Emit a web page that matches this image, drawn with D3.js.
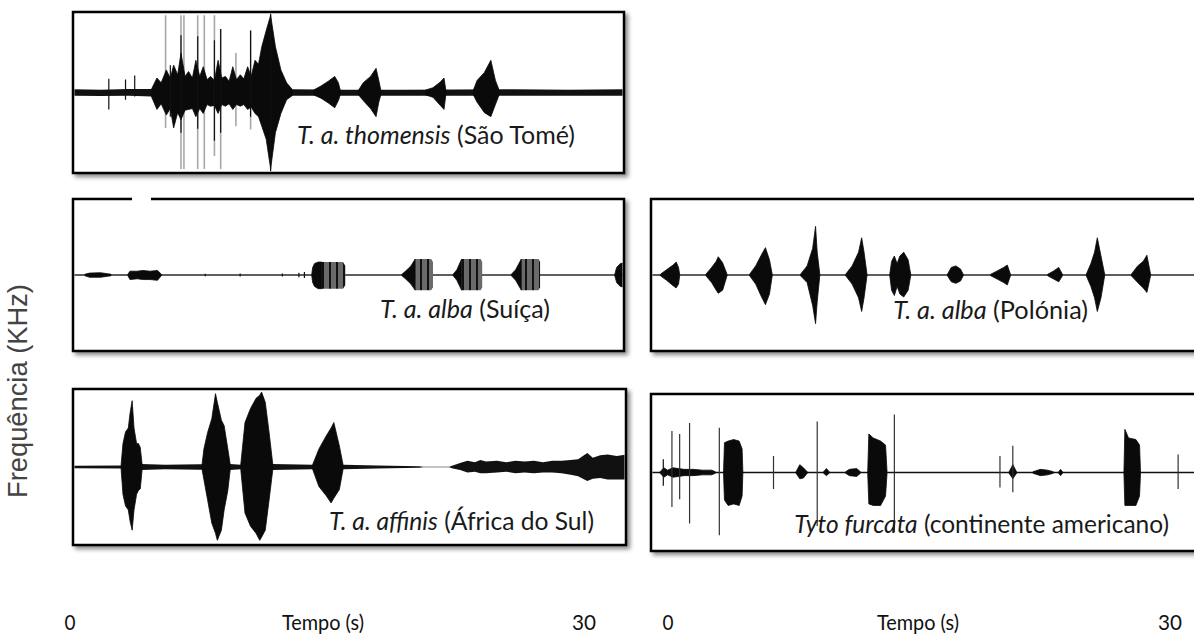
<!DOCTYPE html>
<html>
<head>
<meta charset="utf-8">
<script src="https://cdn.jsdelivr.net/npm/d3@7"></script>
<style>
  body { margin: 0; background: #fff; }
  svg { display: block; }
</style>
</head>
<body>
<div id="chart"></div>
<script>
// ---- data: time (s), amplitude above / below the centre line (fraction of half height) ----

// T. a. thomensis (São Tomé)
const thomNoise = [[0,0.04,0.04],[1.5,0.035,0.045],[3,0.045,0.04],[4.3,0.045,0.05],[12,0.04,0.04],
  [14.8,0.035,0.04],[18,0.035,0.04],[24,0.04,0.04],[27,0.035,0.04],[30,0.04,0.04]];
const thomChorus = [[4.27,0.04,0.05],[4.57,0.18,0.21],[4.8,0.12,0.14],[5.08,0.28,0.28],[5.3,0.18,0.2],
  [5.48,0.34,0.44],[5.7,0.22,0.25],[5.88,0.49,0.34],[6.1,0.2,0.22],[6.29,0.26,0.21],[6.5,0.18,0.2],
  [6.69,0.4,0.3],[6.9,0.2,0.2],[7.09,0.32,0.26],[7.3,0.16,0.15],[7.49,0.2,0.17],[7.7,0.15,0.16],
  [7.9,0.4,0.26],[8.1,0.18,0.15],[8.3,0.2,0.17],[8.5,0.14,0.14],[8.7,0.32,0.21],[8.9,0.16,0.15],
  [9.11,0.22,0.17],[9.3,0.17,0.15],[9.51,0.32,0.21],[9.7,0.2,0.18],[9.91,0.4,0.26],[10.1,0.35,0.3],
  [10.28,0.57,0.42],[10.52,0.77,0.58],[10.76,0.96,0.95],[11.02,0.57,0.5],[11.32,0.28,0.26],
  [11.63,0.12,0.09],[11.93,0.04,0.04]];
const thomCalls = [
  [[13.1,0.03,0.03],[13.5,0.08,0.07],[13.9,0.14,0.13],[14.25,0.2,0.19],[14.45,0.12,0.1],[14.55,0.03,0.03]],
  [[15.55,0.03,0.03],[15.8,0.12,0.1],[16.2,0.2,0.2],[16.5,0.3,0.3],[16.65,0.15,0.12],[16.76,0.03,0.03]],
  [[19.2,0.03,0.03],[19.6,0.06,0.06],[20,0.13,0.16],[20.2,0.18,0.21],[20.3,0.03,0.03]],
  [[21.8,0.03,0.03],[22,0.15,0.12],[22.4,0.25,0.25],[22.75,0.4,0.3],[23,0.15,0.15],[23.2,0.03,0.03]]
];
const thomSpikes = [[1.95,0.17,0.21,"dark"],[2.86,0.16,0.09,"dark"],[3.36,0.21,0.05,"dark"],
  [5.04,0.96,0.44,"light"],[5.88,0.96,0.95,"light"],[6.04,0.96,0.95,"light"],[6.79,0.96,0.95,"light"],
  [7.15,0.96,0.95,"light"],[7.7,0.96,0.79,"light"],[8.04,0.79,0.95,"light"],[8.87,0.49,0.42,"light"],
  [9.67,0.77,0.46,"light"],[5.3,0.34,0.3,"dark"],[5.88,0.71,0.5,"dark"],[6.79,0.7,0.45,"dark"],
  [7.7,0.65,0.6,"dark"],[8.04,0.79,0.5,"dark"],[9.67,0.77,0.3,"dark"],[10.76,0.98,0.98,"dark"]];

// T. a. alba (Suíça)
const swissNoise = [[0,0.008,0.008],[30,0.008,0.008]];
const swissMurmur = [
  [[0.65,0.01,0.01],[0.9,0.025,0.03],[1.5,0.03,0.03],[2.07,0.01,0.01]],
  [[2.99,0.01,0.01],[3.1,0.05,0.06],[3.5,0.05,0.05],[3.8,0.06,0.06],[4.2,0.05,0.06],[4.6,0.06,0.07],[4.81,0.01,0.01]]
];
const swissHeads = [
  [[13,0.01,0.01],[13.05,0.1,0.1],[13.15,0.15,0.15],[13.35,0.17,0.18],[13.55,0.17,0.18]],
  [[17.91,0.01,0.01],[18.1,0.05,0.05],[18.4,0.12,0.12],[18.63,0.21,0.2]],
  [[20.7,0.01,0.01],[20.9,0.07,0.07],[21.16,0.21,0.2]],
  [[23.87,0.01,0.01],[24.1,0.07,0.07],[24.41,0.21,0.2]],
  [[29.5,0.01,0.01],[29.6,0.1,0.1],[29.8,0.15,0.15],[30.2,0.17,0.17]]
];
const swissBodies = [
  [[13.55,0.17,0.18],[14.7,0.17,0.18],[14.83,0.12,0.13]],
  [[18.63,0.21,0.2],[19.5,0.21,0.2],[19.6,0.17,0.16]],
  [[21.16,0.21,0.2],[22.2,0.21,0.2],[22.28,0.17,0.16]],
  [[24.41,0.21,0.2],[25.35,0.21,0.2],[25.43,0.17,0.16]]
];
const swissSpikes = [[7.2,0.015,0.015,"dark"],[9.1,0.02,0.02,"dark"],[11.4,0.02,0.02,"dark"],
  [12.3,0.03,0.03,"dark"],[12.6,0.04,0.04,"dark"]];

// T. a. alba (Polónia)
const polandNoise = [[0,0.005,0.005],[30,0.005,0.005]];
const polandCalls = [
  [[0.51,0.01,0.01],[0.85,0.07,0.07],[1.2,0.13,0.14],[1.37,0.17,0.17],[1.5,0.1,0.12],[1.56,0.01,0.01]],
  [[2.99,0.01,0.01],[3.3,0.1,0.1],[3.55,0.18,0.2],[3.66,0.24,0.24],[3.9,0.16,0.2],[4.14,0.01,0.01]],
  [[5.37,0.01,0.01],[5.7,0.12,0.12],[6,0.26,0.28],[6.23,0.36,0.39],[6.45,0.2,0.25],[6.6,0.01,0.01]],
  [[8.14,0.01,0.01],[8.5,0.12,0.1],[8.8,0.35,0.4],[8.96,0.64,0.64],[9.05,0.3,0.35],[9.19,0.01,0.01]],
  [[10.6,0.01,0.01],[10.95,0.12,0.12],[11.3,0.3,0.3],[11.47,0.49,0.48],[11.6,0.3,0.3],[11.76,0.01,0.01]],
  [[13,0.01,0.01],[13.1,0.18,0.2],[13.25,0.25,0.27],[13.4,0.15,0.15],[13.55,0.25,0.25],[13.76,0.3,0.29],[14,0.2,0.2],[14.14,0.01,0.01]],
  [[16.14,0.01,0.01],[16.35,0.1,0.09],[16.6,0.12,0.11],[16.85,0.08,0.08],[17,0.01,0.01]],
  [[18.5,0.01,0.01],[18.9,0.06,0.06],[19.2,0.1,0.1],[19.4,0.13,0.13],[19.57,0.01,0.01]],
  [[21.6,0.01,0.01],[21.9,0.05,0.05],[22.2,0.1,0.09],[22.4,0.01,0.01]],
  [[23.7,0.01,0.01],[23.95,0.15,0.15],[24.15,0.3,0.3],[24.3,0.49,0.48],[24.5,0.25,0.3],[24.7,0.01,0.01]],
  [[26.15,0.01,0.01],[26.5,0.12,0.1],[26.8,0.18,0.17],[27,0.26,0.23],[27.2,0.01,0.01]]
];

// T. a. affinis (África do Sul)
const affNoise = [[0,0.015,0.015],[2.6,0.02,0.02],[3.7,0.04,0.04],[5,0.03,0.03],[6.9,0.035,0.035],
  [8.5,0.04,0.04],[9.1,0.03,0.03],[10.8,0.04,0.04],[13,0.03,0.03],[14.7,0.03,0.03],[16.5,0.02,0.02],
  [18.8,0.01,0.01],[19,0.004,0.004],[20.4,0.004,0.004],[20.6,0.02,0.02],[21,0.05,0.04],[21.4,0.08,0.07],
  [21.8,0.06,0.06],[22.1,0.09,0.08],[22.4,0.07,0.08],[23,0.08,0.07],[23.5,0.06,0.06],[24,0.08,0.08],
  [24.5,0.07,0.07],[25,0.08,0.08],[25.5,0.06,0.07],[26,0.08,0.07],[26.5,0.08,0.08],[27,0.09,0.1],
  [27.4,0.1,0.12],[27.9,0.18,0.18],[28.2,0.12,0.15],[28.6,0.15,0.14],[29,0.16,0.16],[29.5,0.14,0.16],[30,0.16,0.16]];
const affCalls = [
  [[2.61,0.03,0.03],[2.71,0.3,0.35],[2.85,0.45,0.5],[3,0.5,0.55],[3.1,0.7,0.7],[3.21,0.85,0.81],
   [3.31,0.5,0.55],[3.45,0.3,0.35],[3.55,0.3,0.3],[3.65,0.25,0.28],[3.75,0.03,0.03]],
  [[7,0.03,0.03],[7.1,0.23,0.16],[7.3,0.44,0.42],[7.53,0.62,0.72],[7.73,0.94,0.85],[7.83,0.83,0.94],
   [8.05,0.6,0.81],[8.2,0.53,0.55],[8.4,0.23,0.3],[8.53,0.03,0.03]],
  [[9.1,0.03,0.03],[9.33,0.57,0.59],[9.63,0.75,0.76],[9.93,0.88,0.85],[10.13,0.92,0.94],[10.23,0.96,0.9],
   [10.43,0.83,0.81],[10.64,0.44,0.42],[10.84,0.03,0.03]],
  [[13,0.03,0.03],[13.34,0.23,0.25],[13.74,0.4,0.37],[14,0.5,0.46],[14.15,0.57,0.4],[14.45,0.27,0.29],[14.65,0.03,0.03]]
];

// Tyto furcata (continente americano)
const furcNoise = [[0,0.01,0.01],[30,0.01,0.01]];
const furcBlobs = [
  [[0.5,0.01,0.01],[0.7,0.06,0.06],[0.9,0.03,0.03],[1.2,0.06,0.06],[1.5,0.05,0.05],[1.8,0.04,0.04],[2.3,0.04,0.04],[2.8,0.03,0.03],[3.3,0.03,0.03],[3.5,0.01,0.01]],
  [[7.9,0.01,0.01],[8.1,0.1,0.08],[8.3,0.06,0.07],[8.5,0.01,0.01]],
  [[9.4,0.01,0.01],[9.55,0.05,0.04],[9.7,0.01,0.01]],
  [[10.6,0.01,0.01],[10.8,0.04,0.04],[11.2,0.05,0.05],[11.4,0.01,0.01]],
  [[19.5,0.01,0.01],[19.7,0.1,0.08],[19.9,0.01,0.01]],
  [[20.8,0.01,0.01],[21.2,0.04,0.04],[21.6,0.03,0.03],[21.9,0.01,0.01]],
  [[22.2,0.01,0.01],[22.3,0.04,0.04],[22.4,0.01,0.01]]
];
const furcBursts = [
  [[3.95,0.02,0.02],[4,0.38,0.35],[4.2,0.4,0.42],[4.5,0.42,0.4],[4.8,0.4,0.42],[4.96,0.3,0.3],[5,0.02,0.02]],
  [[11.8,0.02,0.02],[11.86,0.49,0.4],[12.1,0.44,0.42],[12.5,0.4,0.42],[12.77,0.35,0.3],[12.85,0.02,0.02]],
  [[25.75,0.02,0.02],[25.8,0.55,0.42],[26,0.44,0.42],[26.4,0.42,0.42],[26.6,0.35,0.3],[26.65,0.02,0.02]]
];
const furcSpikes = [[0.67,0.17,0.17,"dark"],[1.14,0.53,0.44,"mid"],[1.56,0.49,0.34,"mid"],[2.1,0.63,0.65,"mid"],
  [3.72,0.57,0.8,"mid"],[6.67,0.21,0.21,"mid"],[9.05,0.65,0.68,"mid"],[13.25,0.74,0.76,"mid"],
  [19,0.21,0.19,"mid"],[19.7,0.34,0.25,"mid"],[28.7,0.23,0.21,"mid"]];

// axis tick labels
const timeTicks = [0, 30];
const axisTitle = "Tempo (s)";
const yTitle = "Frequência (KHz)";

// ---- layout ----
const W = 1194, H = 635;
const panels = [
  {box: {x: 73, y: 12, w: 551, h: 161}, noise: thomNoise, fills: [thomChorus, ...thomCalls], spikes: thomSpikes,
   italic: "T. a. thomensis", plain: " (São Tomé)", lx: 575, ly: 144, lw: 278, line: false},
  {box: {x: 73, y: 199, w: 551, h: 152}, noise: swissNoise, fills: [...swissMurmur, ...swissHeads], bodies: swissBodies,
   spikes: swissSpikes, italic: "T. a. alba", plain: " (Suíça)", lx: 550, ly: 318, lw: 170, line: true, gap: [132, 151]},
  {box: {x: 651, y: 199, w: 551, h: 152}, noise: polandNoise, fills: polandCalls, spikes: [],
   italic: "T. a. alba", plain: " (Polónia)", lx: 1088, ly: 319, lw: 195, line: true},
  {box: {x: 73, y: 389, w: 553, h: 156}, noise: affNoise, fills: affCalls, spikes: [],
   italic: "T. a. affinis", plain: " (África do Sul)", lx: 594, ly: 530, lw: 265, line: false},
  {box: {x: 651, y: 394, w: 551, h: 157}, noise: furcNoise, fills: [...furcBlobs, ...furcBursts], spikes: furcSpikes,
   italic: "Tyto furcata", plain: " (continente americano)", lx: 1169, ly: 533, lw: 375, line: true}
];
const columns = [
  {zero: 70, title: 323, thirty: 584},
  {zero: 668, title: 918, thirty: 1170}
];

const svg = d3.select("#chart").append("svg")
  .attr("width", W).attr("height", H);
const defs = svg.append("defs");

const shadow = defs.append("filter").attr("id", "shadow")
  .attr("x", "-5%").attr("y", "-5%").attr("width", "115%").attr("height", "120%");
shadow.append("feDropShadow").attr("dx", 3).attr("dy", 3).attr("stdDeviation", 2.2)
  .attr("flood-color", "#000").attr("flood-opacity", 0.45);

const stripes = defs.append("pattern").attr("id", "stripes").attr("patternUnits", "userSpaceOnUse")
  .attr("width", 7).attr("height", 10);
stripes.append("rect").attr("width", 7).attr("height", 10).attr("fill", "#6a6a6a");
stripes.append("rect").attr("width", 2).attr("height", 10).attr("fill", "#111");

const font = "Lato, 'Open Sans', sans-serif";

function fit(sel, target) {
  const len = sel.node().getComputedTextLength();
  const size = parseFloat(sel.attr("font-size"));
  sel.attr("font-size", size * target / len);
}

panels.forEach((p, i) => {
  const b = p.box;
  const g = svg.append("g");
  const x = d3.scaleLinear().domain([0, 30]).range([b.x, b.x + b.w]);
  const y = d3.scaleLinear().domain([-1, 1]).range([b.y + b.h, b.y]);

  g.append("rect").attr("x", b.x).attr("y", b.y).attr("width", b.w).attr("height", b.h)
    .attr("fill", "#fff").attr("stroke", "#000").attr("stroke-width", 2.5)
    .attr("filter", "url(#shadow)");

  if (p.gap) {
    g.append("rect").attr("x", p.gap[0]).attr("y", b.y - 3).attr("width", p.gap[1] - p.gap[0])
      .attr("height", 6).attr("fill", "#fff");
  }

  defs.append("clipPath").attr("id", "clip" + i).append("rect")
    .attr("x", b.x + 1.5).attr("y", b.y + 1.5).attr("width", b.w - 3).attr("height", b.h - 3);
  const plot = g.append("g").attr("clip-path", `url(#clip${i})`);

  const area = d3.area().x(d => x(d[0])).y0(d => y(-d[2])).y1(d => y(d[1]));

  // light background spikes first
  plot.selectAll(".light").data(p.spikes.filter(d => d[3] === "light")).join("line")
    .attr("x1", d => x(d[0])).attr("x2", d => x(d[0]))
    .attr("y1", d => y(d[1])).attr("y2", d => y(-d[2]))
    .attr("stroke", "#a8a8a8").attr("stroke-width", 1.6);

  if (p.line) {
    plot.append("line").attr("x1", b.x).attr("x2", b.x + b.w)
      .attr("y1", y(0)).attr("y2", y(0))
      .attr("stroke", "#4d6470").attr("stroke-width", 1.2);
  }
  plot.append("path").datum(p.noise).attr("d", area).attr("fill", "#111");

  if (p.bodies) {
    plot.selectAll(".body").data(p.bodies).join("path")
      .attr("d", area).attr("fill", "url(#stripes)");
  }
  plot.selectAll(".call").data(p.fills).join("path")
    .attr("d", area).attr("fill", "#0a0a0a").attr("stroke", "#0a0a0a").attr("stroke-width", 0.8);

  plot.selectAll(".spike").data(p.spikes.filter(d => d[3] !== "light")).join("line")
    .attr("x1", d => x(d[0])).attr("x2", d => x(d[0]))
    .attr("y1", d => y(d[1])).attr("y2", d => y(-d[2]))
    .attr("stroke", d => d[3] === "dark" ? "#111" : "#333").attr("stroke-width", 1.2);

  const label = g.append("text").attr("x", p.lx).attr("y", p.ly)
    .attr("text-anchor", "end").attr("font-family", font).attr("font-size", 20).attr("fill", "#1a1a1a");
  label.append("tspan").attr("font-style", "italic").text(p.italic);
  label.append("tspan").text(p.plain);
  fit(label, p.lw);
});

// time axis labels under each column (narrow, Calibri-like proportions)
columns.forEach(c => {
  const t = svg.append("g");
  const lx = d3.scaleLinear().domain(timeTicks).range([c.zero, c.thirty]);
  t.selectAll("text.tick").data(timeTicks).join("text")
    .attr("x", d => lx(d)).attr("y", 630).attr("text-anchor", "middle")
    .attr("font-family", font).attr("font-size", 22).attr("fill", "#111")
    .attr("textLength", d => d === 0 ? 11 : 24).attr("lengthAdjust", "spacingAndGlyphs")
    .text(d => d);
  t.append("text").attr("x", c.title).attr("y", 630).attr("text-anchor", "middle")
    .attr("font-family", font).attr("font-size", 22).attr("fill", "#111")
    .attr("textLength", 82).attr("lengthAdjust", "spacingAndGlyphs")
    .text(axisTitle);
});

const yl = svg.append("text")
  .attr("transform", "translate(27,391) rotate(-90)")
  .attr("text-anchor", "middle")
  .attr("font-family", "'Liberation Sans', Arial, sans-serif")
  .attr("font-size", 20).attr("fill", "#444")
  .text(yTitle);
fit(yl, 214);
</script>
</body>
</html>
